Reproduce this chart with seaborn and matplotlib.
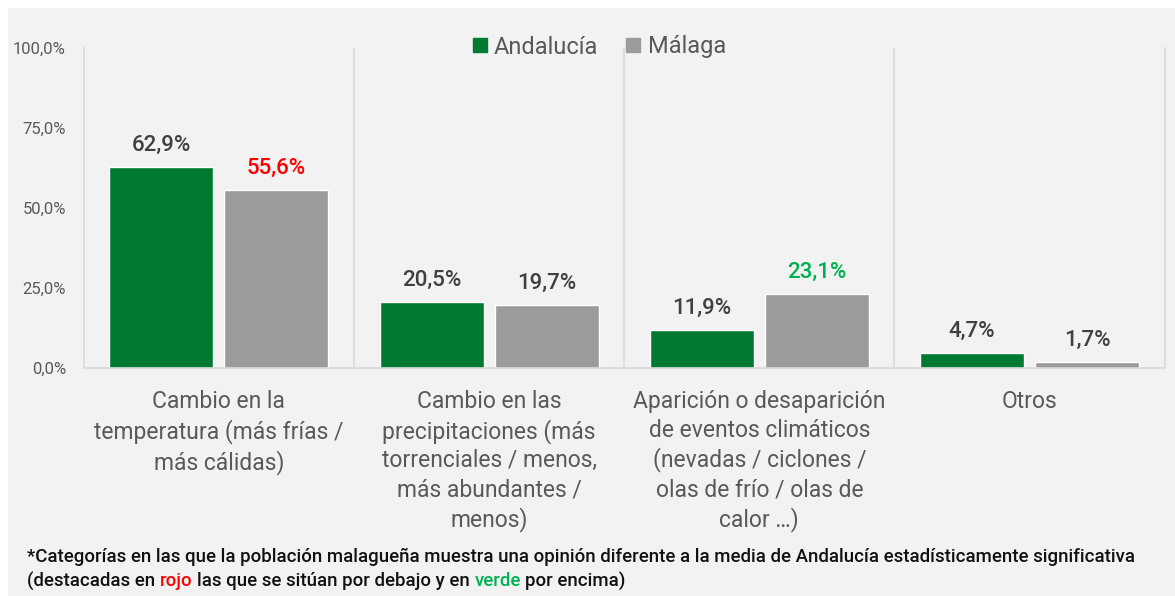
import numpy as np
import pandas as pd
import seaborn as sns
import matplotlib.pyplot as plt
from matplotlib.lines import Line2D
from matplotlib.patches import Rectangle
from matplotlib.ticker import FuncFormatter

# datos
categorias = [
    "Cambio en la\ntemperatura (más frías /\nmás cálidas)",
    "Cambio en las\nprecipitaciones (más\ntorrenciales / menos,\nmás abundantes /\nmenos)",
    "Aparición o desaparición\nde eventos climáticos\n(nevadas / ciclones /\nolas de frío / olas de\ncalor …)",
    "Otros",
]
series = ["Andalucía", "Málaga"]
andalucia = [62.9, 20.5, 11.9, 4.7]
malaga = [55.6, 19.7, 23.1, 1.7]
# -1 por debajo, +1 por encima, 0 sin diferencia significativa
significacion_malaga = [-1, 0, 1, 0]

y_ticks = [0, 25, 50, 75, 100]

nota_linea1 = ("*Categorías en las que la población malagueña muestra una opinión "
               "diferente a la media de Andalucía estadísticamente significativa")
nota_linea2 = ["(destacadas en", "rojo", "las que se sitúan por debajo y en", "verde", "por encima)"]

VERDE = "#007A33"
GRIS = "#9B9B9B"
ROJO_TXT = "#FF0000"
VERDE_TXT = "#00B050"
TXT = "#404040"
EJE = "#D9D9D9"

df = pd.DataFrame({
    "Categoria": categorias * 2,
    "Serie": [series[0]] * 4 + [series[1]] * 4,
    "Valor": andalucia + malaga,
})

sns.set_style("white")
plt.rcParams["font.family"] = ["Roboto", "DejaVu Sans"]

W, H = 1175, 596
fig = plt.figure(figsize=(W / 100, H / 100), dpi=100, facecolor="white")
fig.patches.append(Rectangle((8 / W, 0), 1 - 8 / W, 1 - 8 / H, transform=fig.transFigure,
                             facecolor="#F2F2F2", edgecolor="none", zorder=-10))

ax = fig.add_axes([83.7 / W, 1 - 367.7 / H, (1164.7 - 83.7) / W, (367.7 - 48) / H])
ax.set_facecolor("none")

sns.barplot(data=df, x="Categoria", y="Valor", hue="Serie",
            palette={series[0]: VERDE, series[1]: GRIS}, saturation=1,
            width=0.851, gap=0.095, legend=False, ax=ax)

ax.set_xlim(-0.5, 3.5)
ax.set_ylim(0, 100)
ax.set_yticks(y_ticks)
ax.yaxis.set_major_formatter(FuncFormatter(lambda v, p: f"{v:.1f}%".replace(".", ",")))
ax.set_xlabel("")
ax.set_ylabel("")

for s in ["left", "right", "bottom"]:
    ax.spines[s].set_visible(True)
    ax.spines[s].set_color(EJE)
    ax.spines[s].set_linewidth(1.2)
ax.spines["top"].set_visible(False)
ax.vlines([0.5, 1.5, 2.5], 0, 100, color=EJE, lw=1.2, zorder=0)

ax.tick_params(axis="y", length=4.3, width=1.2, color=EJE, labelsize=12, labelcolor="#595959", pad=8.5)
ax.tick_params(axis="x", length=0, labelsize=16.5, labelcolor="#595959", pad=16)
for t in ax.get_xticklabels():
    t.set_linespacing(1.31)

fmt = lambda v: f"{v:.1f}%".replace(".", ",")
ax.bar_label(ax.containers[0], labels=[fmt(v) for v in andalucia], padding=8,
             fontsize=16, fontweight="medium", color=TXT)
txts = ax.bar_label(ax.containers[1], labels=[fmt(v) for v in malaga], padding=8,
                    fontsize=16, fontweight="medium", color=TXT)
for t, s in zip(txts, significacion_malaga):
    if s < 0:
        t.set_color(ROJO_TXT)
    elif s > 0:
        t.set_color(VERDE_TXT)

handles = [Line2D([], [], marker="s", ls="", color=c, markersize=9.5) for c in [VERDE, GRIS]]
fig.legend(handles, series, loc="center", bbox_to_anchor=(598 / W, 1 - 47 / H), ncol=2,
           frameon=False, fontsize=17, handletextpad=0.2, columnspacing=1.1,
           handlelength=0.8, labelcolor="#595959")

# nota al pie
nota_kw = dict(fontsize=13.4, fontweight="medium", va="center", ha="left")
fig.text(27 / W, 1 - 557 / H, nota_linea1, color="#111111", **nota_kw)

fig.canvas.draw()
r = fig.canvas.get_renderer()
a1 = fig.text(0, 0, "a a", **nota_kw)
a2 = fig.text(0, 0, "aa", **nota_kw)
espacio = a1.get_window_extent(r).width - a2.get_window_extent(r).width
a1.remove()
a2.remove()

colores_nota = ["#111111", ROJO_TXT, "#111111", VERDE_TXT, "#111111"]
x = 27 / W
for pieza, col in zip(nota_linea2, colores_nota):
    t = fig.text(x, 1 - 581 / H, pieza, color=col, **nota_kw)
    x += (t.get_window_extent(r).width + espacio) / fig.bbox.width

fig.savefig("out.png", dpi=100)
